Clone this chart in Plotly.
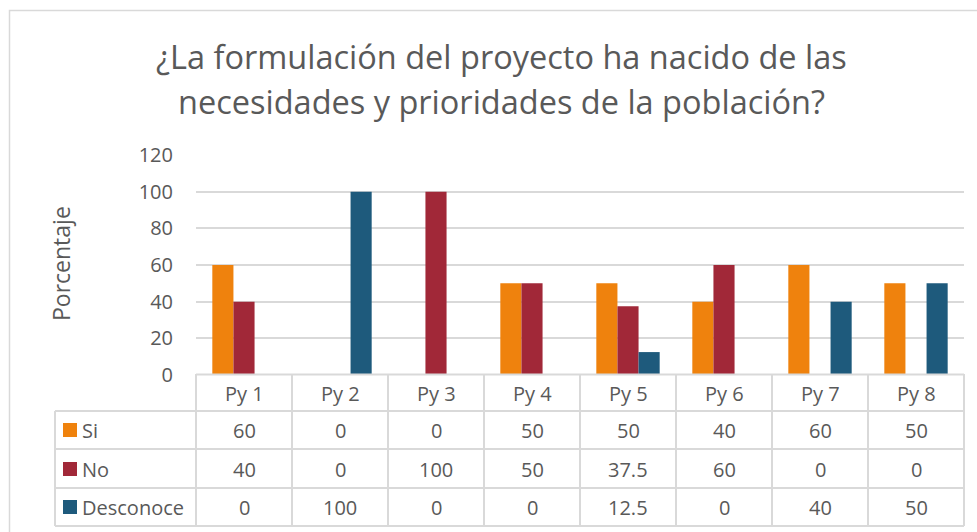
import plotly.graph_objects as go

categories = ["Py 1", "Py 2", "Py 3", "Py 4", "Py 5", "Py 6", "Py 7", "Py 8"]
series_names = ["Si", "No", "Desconoce"]
si = [60, 0, 0, 50, 50, 40, 60, 50]
no = [40, 0, 100, 50, 37.5, 60, 0, 0]
desconoce = [0, 100, 0, 0, 12.5, 0, 40, 50]
y_ticks = [0, 20, 40, 60, 80, 100, 120]
colors = ["#EF820D", "#A12838", "#1E5A7C"]

title_lines = ["¿La formulación del proyecto ha nacido de las",
               "necesidades y prioridades de la población?"]
y_title = "Porcentaje"

FONT = "'Open Sans', Lato, sans-serif"
TXT = "#595959"
GRID = "#D9D9D9"
SMALL = 20

W, H = 977, 532
L, R, T, B = 196, 13, 155, 157
PW = W - L - R
PH = H - T - B


def px(x):
    return (x - L) / PW


def py(y):
    return (H - B - y) / PH


def fmt(v):
    return str(int(v)) if float(v).is_integer() else str(v)


fig = go.Figure()
for name, vals, c in zip(series_names, [si, no, desconoce], colors):
    fig.add_trace(go.Bar(x=categories, y=vals, name=name, marker=dict(color=c, line=dict(width=0)),
                         showlegend=False, hoverinfo="x+y+name"))

shapes = []
ann = []

# outer border
shapes.append(dict(type="rect", xref="paper", yref="paper", x0=px(9.5), x1=px(990), y0=py(545), y1=py(10.5),
                   line=dict(color=GRID, width=1.5), fillcolor="rgba(0,0,0,0)", layer="below"))

# table lines
row_lines = [411, 449, 488, 526]
for yy in row_lines:
    shapes.append(dict(type="line", xref="paper", yref="paper", x0=px(55), x1=px(964), y0=py(yy), y1=py(yy),
                       line=dict(color=GRID, width=2)))
vlines = [196 + i * 96 for i in range(9)]
for xx in vlines:
    shapes.append(dict(type="line", xref="paper", yref="paper", x0=px(xx), x1=px(xx), y0=py(374), y1=py(526),
                       line=dict(color=GRID, width=2)))
shapes.append(dict(type="line", xref="paper", yref="paper", x0=px(55), x1=px(55), y0=py(411), y1=py(526),
                   line=dict(color=GRID, width=2)))
shapes.append(dict(type="line", xref="paper", yref="paper", x0=px(196), x1=px(964), y0=py(374.5), y1=py(374.5),
                   line=dict(color=GRID, width=2)))

# header labels
for cat in categories:
    ann.append(dict(x=cat, xref="x", y=py(393), yref="paper", text=cat, showarrow=False,
                    font=dict(family=FONT, size=SMALL, color=TXT), xanchor="center", yanchor="middle"))

row_centers = [430, 469, 507]
for name, vals, c, yc in zip(series_names, [si, no, desconoce], colors, row_centers):
    shapes.append(dict(type="rect", xref="paper", yref="paper", x0=px(63), x1=px(77), y0=py(yc + 7), y1=py(yc - 7),
                       fillcolor=c, line=dict(width=0)))
    ann.append(dict(x=px(80), xref="paper", y=py(yc), yref="paper", text=name, showarrow=False,
                    font=dict(family=FONT, size=SMALL, color=TXT), xanchor="left", yanchor="middle"))
    for cat, v in zip(categories, vals):
        ann.append(dict(x=cat, xref="x", y=py(yc), yref="paper", text=fmt(v), showarrow=False,
                        font=dict(family=FONT, size=SMALL, color=TXT), xanchor="center", yanchor="middle"))

# title
for line, yc in zip(title_lines, [56, 101]):
    ann.append(dict(x=px(501), xref="paper", y=py(yc), yref="paper", text=line, showarrow=False,
                    font=dict(family=FONT, size=32.5, color=TXT), xanchor="center", yanchor="middle"))

# y axis title
ann.append(dict(x=px(61), xref="paper", y=py(264), yref="paper", text=y_title, showarrow=False, textangle=-90,
                font=dict(family=FONT, size=23, color=TXT), xanchor="center", yanchor="middle"))

fig.update_layout(
    width=W, height=H,
    margin=dict(l=L, r=R, t=T, b=B),
    paper_bgcolor="white", plot_bgcolor="white",
    barmode="group", bargap=0.34, bargroupgap=0,
    shapes=shapes, annotations=ann,
    xaxis=dict(showticklabels=False, showgrid=False, zeroline=False, showline=False, ticks=""),
    yaxis=dict(range=[0, 120], tickvals=y_ticks, showgrid=True, gridcolor=GRID, gridwidth=1.5,
               zeroline=False, showline=False, ticks="", ticklabelstandoff=22,
               tickfont=dict(family=FONT, size=SMALL, color=TXT)),
    font=dict(family=FONT, color=TXT),
)

fig.write_html("out.html", config={"displayModeBar": False},
               post_script="document.body.style.margin='0';document.body.style.padding='0';")
